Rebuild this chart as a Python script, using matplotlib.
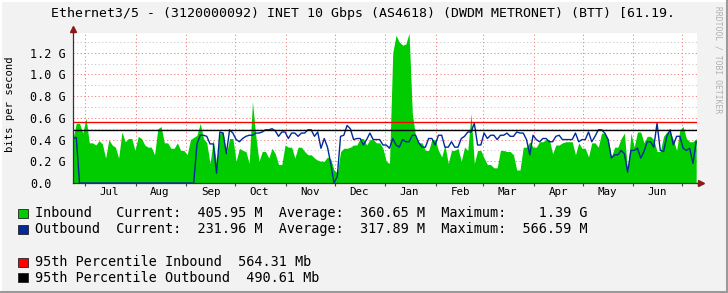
import pandas as pd
import matplotlib
matplotlib.use("Agg")
from matplotlib import pyplot as plt
from matplotlib import dates as mdates
from matplotlib.lines import Line2D
from matplotlib.patches import Rectangle

# traffic in Gbit/s, one sample every 2 days
start = "2023-06-23 16:00"
inbound = [
    0.41, 0.55, 0.55, 0.46, 0.60, 0.37, 0.37, 0.35, 0.39, 0.36,
    0.23, 0.40, 0.35, 0.33, 0.23, 0.47, 0.38, 0.41, 0.41, 0.30,
    0.43, 0.41, 0.35, 0.33, 0.33, 0.26, 0.50, 0.52, 0.37, 0.37,
    0.32, 0.32, 0.37, 0.30, 0.30, 0.26, 0.40, 0.42, 0.44, 0.55,
    0.41, 0.37, 0.18, 0.40, 0.18, 0.46, 0.47, 0.27, 0.41, 0.41,
    0.20, 0.32, 0.30, 0.29, 0.18, 0.75, 0.44, 0.20, 0.29, 0.29,
    0.23, 0.32, 0.27, 0.17, 0.17, 0.35, 0.33, 0.33, 0.23, 0.33,
    0.33, 0.29, 0.26, 0.26, 0.23, 0.21, 0.20, 0.20, 0.24, 0.22,
    0.12, 0.09, 0.29, 0.32, 0.32, 0.33, 0.35, 0.35, 0.41, 0.41,
    0.35, 0.40, 0.40, 0.37, 0.37, 0.32, 0.20, 0.18, 1.20, 1.36,
    1.30, 1.27, 1.28, 1.38, 0.64, 0.43, 0.37, 0.37, 0.30, 0.30,
    0.40, 0.40, 0.30, 0.24, 0.35, 0.18, 0.30, 0.30, 0.32, 0.20,
    0.33, 0.30, 0.64, 0.18, 0.30, 0.30, 0.23, 0.17, 0.17, 0.14,
    0.14, 0.30, 0.30, 0.29, 0.29, 0.26, 0.12, 0.12, 0.33, 0.33,
    0.38, 0.33, 0.33, 0.38, 0.38, 0.40, 0.40, 0.27, 0.35, 0.35,
    0.37, 0.38, 0.38, 0.38, 0.26, 0.37, 0.32, 0.32, 0.24, 0.37,
    0.37, 0.33, 0.46, 0.46, 0.41, 0.24, 0.33, 0.33, 0.41, 0.46,
    0.10, 0.46, 0.33, 0.47, 0.47, 0.37, 0.43, 0.43, 0.40, 0.29,
    0.29, 0.43, 0.47, 0.47, 0.40, 0.30, 0.49, 0.52, 0.41, 0.38,
    0.38, 0.41,
]
outbound = [
    0.41, 0.42, 0.00, 0.00, 0.00, 0.00, 0.00, 0.00, 0.00, 0.00,
    0.00, 0.00, 0.00, 0.00, 0.00, 0.00, 0.00, 0.00, 0.00, 0.00,
    0.00, 0.00, 0.00, 0.00, 0.00, 0.00, 0.00, 0.00, 0.00, 0.00,
    0.00, 0.00, 0.00, 0.00, 0.00, 0.00, 0.00, 0.00, 0.36, 0.44,
    0.44, 0.43, 0.36, 0.36, 0.09, 0.47, 0.46, 0.27, 0.49, 0.46,
    0.40, 0.38, 0.41, 0.43, 0.44, 0.44, 0.46, 0.46, 0.47, 0.49,
    0.49, 0.50, 0.48, 0.43, 0.47, 0.47, 0.41, 0.46, 0.46, 0.43,
    0.46, 0.46, 0.49, 0.49, 0.43, 0.47, 0.32, 0.41, 0.33, 0.18,
    0.00, 0.06, 0.43, 0.44, 0.53, 0.50, 0.40, 0.41, 0.41, 0.35,
    0.40, 0.46, 0.40, 0.40, 0.40, 0.35, 0.35, 0.32, 0.41, 0.35,
    0.33, 0.40, 0.38, 0.38, 0.44, 0.44, 0.37, 0.33, 0.33, 0.41,
    0.41, 0.35, 0.44, 0.44, 0.33, 0.33, 0.38, 0.33, 0.33, 0.41,
    0.43, 0.47, 0.47, 0.55, 0.35, 0.35, 0.46, 0.41, 0.44, 0.44,
    0.40, 0.44, 0.44, 0.46, 0.43, 0.43, 0.47, 0.46, 0.46, 0.40,
    0.26, 0.44, 0.40, 0.38, 0.41, 0.41, 0.38, 0.38, 0.43, 0.44,
    0.40, 0.40, 0.40, 0.40, 0.46, 0.38, 0.40, 0.40, 0.47, 0.38,
    0.43, 0.49, 0.49, 0.46, 0.40, 0.23, 0.26, 0.26, 0.30, 0.27,
    0.10, 0.30, 0.30, 0.32, 0.23, 0.29, 0.38, 0.38, 0.33, 0.55,
    0.30, 0.29, 0.43, 0.49, 0.35, 0.43, 0.43, 0.32, 0.30, 0.32,
    0.18, 0.38,
]
p95_inbound = 0.56431
p95_outbound = 0.49061

title = "Ethernet3/5 - (3120000092) INET 10 Gbps (AS4618) (DWDM METRONET) (BTT) [61.19."
y_ticks = [0.0, 0.2, 0.4, 0.6, 0.8, 1.0, 1.2]
y_tick_labels = ["0.0", "0.2 G", "0.4 G", "0.6 G", "0.8 G", "1.0 G", "1.2 G"]
legend_rows = [
    ("Inbound   Current:  405.95 M  Average:  360.65 M  Maximum:    1.39 G", "#00CC00"),
    ("Outbound  Current:  231.96 M  Average:  317.89 M  Maximum:  566.59 M", "#002A97"),
    ("95th Percentile Inbound  564.31 Mb", "#FF0000"),
    ("95th Percentile Outbound  490.61 Mb", "#000000"),
]

W, H = 728, 293
MONO = "DejaVu Sans Mono"
plt.rcParams["font.family"] = MONO

dates = pd.date_range(start, periods=len(inbound), freq="2D")

fig = plt.figure(figsize=(W / 100, H / 100), dpi=100, facecolor="#F2F2F2")
ax = fig.add_axes([73 / W, 1 - 183 / H, 624 / W, 150 / H])
ax.set_facecolor("white")


def px(x, y):
    return x / W, 1 - y / H


# grid
for v in [0.1, 0.3, 0.5, 0.7, 0.9, 1.1, 1.3]:
    ax.axhline(v, color="#C8C8C8", lw=0.7, ls=(0, (1.2, 2.5)), zorder=1)
for v in y_ticks[1:]:
    ax.axhline(v, color="#F08080", lw=0.7, ls=(0, (1.2, 2.5)), zorder=1)

ax.fill_between(dates, inbound, color="#00CC00", lw=0, zorder=2)
ax.plot(dates, outbound, color="#002A97", lw=1.0, zorder=3)
ax.axhline(p95_inbound, color="#FF0000", lw=1.0, zorder=4)
ax.axhline(p95_outbound, color="#000000", lw=1.0, zorder=4)

ax.set_xlim(pd.Timestamp("2023-06-23 16:00"), pd.Timestamp("2024-07-10 04:00"))
ax.set_ylim(0, 1.382)

ax.xaxis.set_major_locator(mdates.MonthLocator())
ax.xaxis.set_major_formatter(plt.NullFormatter())
ax.xaxis.set_minor_locator(mdates.MonthLocator(bymonthday=16))
ax.xaxis.set_minor_formatter(mdates.DateFormatter("%b"))
ax.grid(True, axis="x", which="major", color="#F08080", lw=0.7, ls=(0, (1.2, 2.5)), zorder=1)
ax.tick_params(axis="x", which="major", length=2, color="#444444", direction="out")
ax.tick_params(axis="x", which="minor", length=0, pad=3, labelsize=7.8)

ax.set_yticks(y_ticks)
ax.set_yticklabels(y_tick_labels)
ax.tick_params(axis="y", length=0, pad=31, labelsize=8.5)
for lab in ax.get_yticklabels():
    lab.set_horizontalalignment("left")

for s in ["top", "right"]:
    ax.spines[s].set_visible(False)
for s in ["left", "bottom"]:
    ax.spines[s].set_color("#333333")
    ax.spines[s].set_linewidth(0.9)
    ax.spines[s].set_zorder(5)

# axis arrows
ax.plot([0, 0], [1, 1.03], transform=ax.transAxes, color="#333333", lw=0.9, clip_on=False)
ax.plot(0, 1.03, marker="^", ms=4, color="#8B1A1A", transform=ax.transAxes, clip_on=False)
ax.plot([1, 1.006], [0, 0], transform=ax.transAxes, color="#333333", lw=0.9, clip_on=False)
ax.plot(1.006, 0, marker=">", ms=4, color="#8B1A1A", transform=ax.transAxes, clip_on=False)

# texts
fig.text(*px(363, 13), title, ha="center", va="center", fontsize=9.55)
fig.text(*px(10, 104), "bits per second", rotation=90, ha="center", va="center", fontsize=7.6)
fig.text(*px(718, 60), "RRDTOOL / TOBI OETIKER", rotation=270, ha="center", va="center",
         fontsize=5.8, color="#B0B0B0")

row_y = [213.5, 229, 262, 277.5]
for (txt, col), y in zip(legend_rows, row_y):
    fig.text(*px(34.6, y), txt, ha="left", va="center", fontsize=9.75)
    fig.patches.append(Rectangle(px(17.5, y + 4.5), 10 / W, 9 / H, transform=fig.transFigure,
                                 facecolor=col, edgecolor="#222222", lw=0.6))

# 3d frame
fig.lines.append(Line2D([0, 1], [1 - 0.5 / H, 1 - 0.5 / H], transform=fig.transFigure, color="white", lw=1.5))
fig.lines.append(Line2D([0.5 / W, 0.5 / W], [0, 1], transform=fig.transFigure, color="white", lw=1.5))
fig.lines.append(Line2D([0, 1], [1.5 / H, 1.5 / H], transform=fig.transFigure, color="#9A9A9A", lw=2.2))
fig.lines.append(Line2D([1 - 1.5 / W, 1 - 1.5 / W], [0, 1], transform=fig.transFigure, color="#9A9A9A", lw=2.2))

fig.savefig("out.png", dpi=100, facecolor=fig.get_facecolor())
